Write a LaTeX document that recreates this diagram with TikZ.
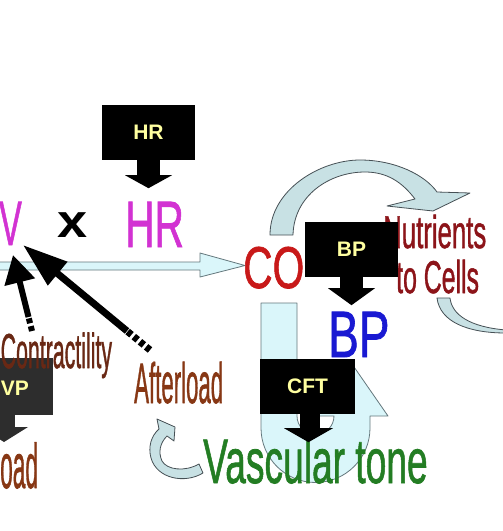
\documentclass[tikz,border=0pt]{standalone}
\usepackage{fontspec}
\setmainfont{Liberation Sans}
\newfontfamily\wafont[FakeBold=1.3]{Liberation Sans}
\usepackage{graphicx}
\usetikzlibrary{arrows.meta,calc}
\definecolor{magentaT}{RGB}{210,50,210}
\definecolor{redT}{RGB}{200,25,25}
\definecolor{blueT}{RGB}{25,25,210}
\definecolor{nutrT}{RGB}{140,20,25}
\definecolor{brownC}{RGB}{105,40,20}
\definecolor{brownA}{RGB}{135,55,20}
\definecolor{greenT}{RGB}{35,125,35}
\definecolor{labelY}{RGB}{255,255,160}
\definecolor{cyanF}{RGB}{218,246,250}
\definecolor{cyanD}{RGB}{100,120,125}
\definecolor{grayF}{RGB}{200,225,228}
\definecolor{grayD}{RGB}{70,80,85}
\definecolor{vpgray}{RGB}{45,45,45}
\newcommand{\ctx}[3]{\wafont\fontsize{#1}{#1}\selectfont\scalebox{#2}[1]{#3}}
\begin{document}
\begin{tikzpicture}[x=1pt,y=-1pt,
  word/.style={inner sep=0pt, anchor=base west},
  blkbox/.style={fill=#1, draw=none, inner sep=0pt, minimum width=93pt, minimum height=55pt,
     text=labelY, font=\fontsize{21}{21}\selectfont\bfseries},
  blkbox/.default=black,
  cyanA/.style={fill=cyanF, draw=cyanD, line width=0.8pt, line join=round},
  grayA/.style={fill=grayF, draw=grayD, line width=0.8pt, line join=round},
  solidarrow/.style={line width=#1, draw=black, line cap=butt},
  dashtail/.style={line width=#1, draw=black, dash pattern=on 5pt off 3pt, line cap=butt},
]
\useasboundingbox (0,0) rectangle (503,531);
\clip (0,0) rectangle (503,531);
\fill[white] (0,0) rectangle (503,531);

% main horizontal arrow
\path[cyanA] (-5,262) -- (200,262) -- (200,253) -- (245,265.5) -- (200,277) -- (200,270) -- (-5,270) -- cycle;

% curved arrows
\path[grayA] (270,235) .. controls (270,190) and (320,160) .. (360,160)
  .. controls (395,160) and (425,175) .. (437,192) -- (470,193) -- (433,211) -- (387,206) -- (415,199)
  .. controls (402,182) and (387,172) .. (365,172)
  .. controls (330,172) and (294,195) .. (293,235) -- cycle;
\path[grayA] (437,298) -- (450,298) .. controls (452,315) and (470,327) .. (506,330)
  -- (506,333) .. controls (468,333) and (440,322) .. (437,298) -- cycle;
\path[grayA] (203,473) .. controls (185,484) and (157,479) .. (151,458)
  .. controls (148,447) and (151,436) .. (159,429) -- (157,419) -- (175,427) -- (174,441) -- (167,436)
  .. controls (160,443) and (158,452) .. (162,461)
  .. controls (167,470) and (185,472) .. (199,464) -- cycle;

% U-turn arrow
\path[cyanA] (261,303) -- (261,428) .. controls (261,458.1) and (285.4,482.5) .. (315.5,482.5)
  .. controls (345.6,482.5) and (370,458.1) .. (370,428) -- (370,416) -- (388,416) -- (352,364)
  -- (316,416) -- (334,416) .. controls (334,426.2) and (325.7,434.5) .. (315.5,434.5)
  .. controls (305.3,434.5) and (297,426.2) .. (297,416) -- (297,303) -- cycle;

% texts
\node[word, text=magentaT] (V) at (-1,245) {\ctx{62.8}{0.54}{V}};
\node[inner sep=0pt, text=black] (times) at (72.5,225) {\fontsize{47}{47}\selectfont\bfseries\scalebox{1.15}[1]{x}};
\node[word, text=magentaT] (HR) at (125,247) {\ctx{65.6}{0.62}{HR}};
\node[word, text=redT] (CO) at (243,288) {\ctx{59}{0.69}{CO}};
\node[word, text=blueT] (BP) at (328,357) {\ctx{65.6}{0.70}{BP}};
\node[word, text=nutrT] (nutr) at (383,248) {\ctx{46}{0.56}{Nutrients}};
\node[word, text=nutrT] (cells) at (396,293) {\ctx{46}{0.54}{to Cells}};
\node[word, text=brownA] (after) at (134,403) {\ctx{57}{0.39}{Afterload}};
\node[word, text=brownA] (oad) at (0,488) {\ctx{63}{0.36}{oad}};
\node[word, text=greenT] (vtone) at (203,483) {\ctx{63}{0.59}{Vascular tone}};

% VP box (behind Contractility)
\node[blkbox=vpgray, minimum width=90pt, minimum height=57pt] (vpbox) at (8,386.5) {};
\node[inner sep=0pt, text=labelY, font=\fontsize{21}{21}\selectfont\bfseries] (vplabel) at (15,388) {VP};
\fill[vpgray] (-7,415) rectangle (15,427);
\fill[vpgray] (-20,427) -- (28,427) -- (4,442) -- cycle;
\node[word, text=brownC] (contr) at (0.5,368) {\ctx{49}{0.435}{Contractility}};

% black callout boxes
\node[blkbox] (hrbox) at (148.5,132.5) {HR};
\fill (hrbox.south) ++(-11.5,0) rectangle ++(23,15);
\fill ($(hrbox.south)+(-23.5,15)$) -- ++(47,0) -- ($(hrbox.south)+(0,28)$) -- cycle;
\node[blkbox] (bpbox) at (351.5,249.5) {BP};
\fill (bpbox.south) ++(-11.5,0) rectangle ++(23,11);
\fill ($(bpbox.south)+(-23.5,11)$) -- ++(47,0) -- ($(bpbox.south)+(0,28)$) -- cycle;
\node[blkbox, minimum width=95pt] (cftbox) at (307.5,386.5) {CFT};
\fill (cftbox.south) ++(-7.5,0) rectangle ++(20,14);
\fill ($(cftbox.south)+(-23.5,14)$) -- ++(49,0) -- ($(cftbox.south)+(1,28)$) -- cycle;

% influence arrows into V
\coordinate (c1tail) at (32,331);
\coordinate (c1mid) at (28.5,317);
\coordinate (c1tip) at (13,255);
\coordinate (a1tail) at (150,350);
\coordinate (a1mid) at (127,331);
\coordinate (a1tip) at (23,245);
\draw[dashtail=6pt] (c1tail) -- (c1mid);
\draw[solidarrow=6pt, -{Triangle[length=28pt,width=30pt]}] (c1mid) -- (c1tip);
\draw[dashtail=7pt] (a1tail) -- (a1mid);
\draw[solidarrow=7pt, -{Triangle[length=45pt,width=29pt]}] (a1mid) -- (a1tip);
\end{tikzpicture}
\end{document}
